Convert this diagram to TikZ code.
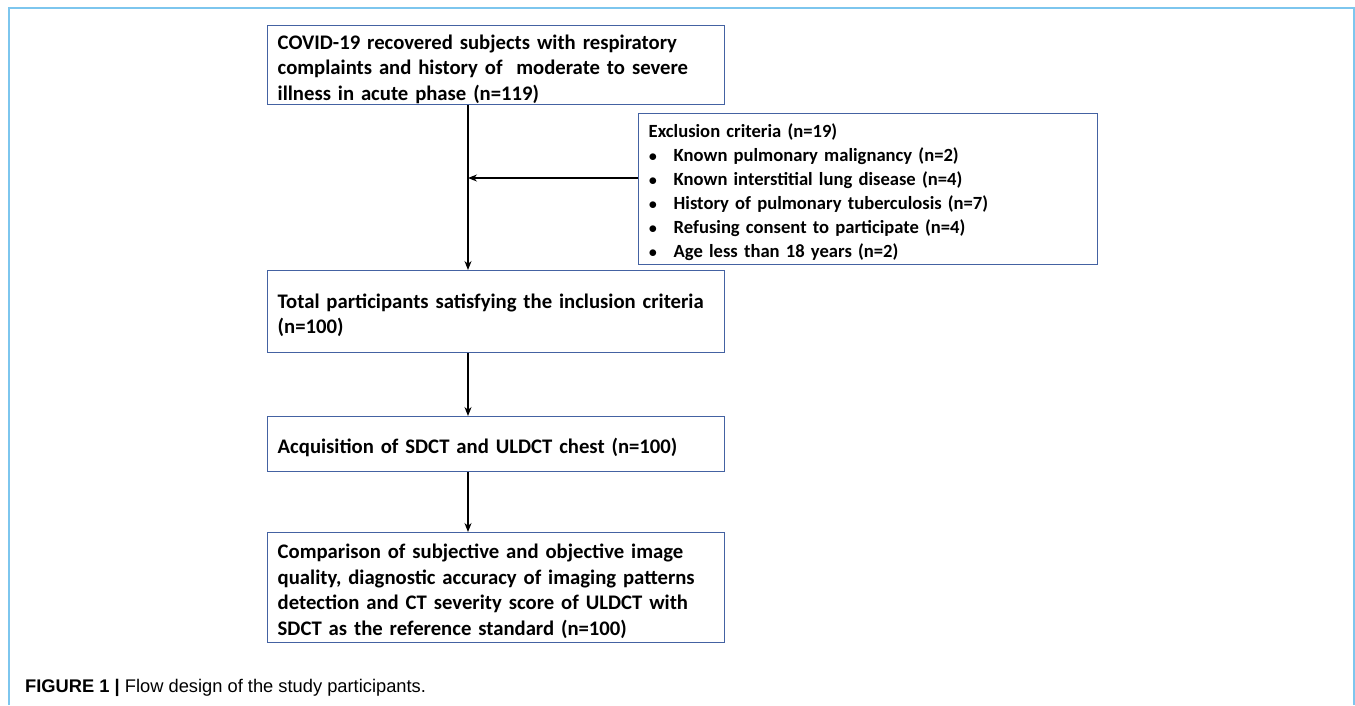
\documentclass[tikz,border=0pt]{standalone}
\usepackage{fontspec}
\setmainfont{Carlito}
\newfontfamily\capfont{Liberation Sans}
\usetikzlibrary{positioning}
\usetikzlibrary{arrows.meta}

\definecolor{boxblue}{RGB}{68,98,162}
\definecolor{framecyan}{RGB}{125,198,238}

\tikzset{
  flowbox/.style={draw=boxblue,line width=1.4pt,inner xsep=10pt,inner ysep=0pt,align=left,
    font=\fontsize{20.7}{25.5}\selectfont\bfseries,
    execute at begin node={\rule{0pt}{22pt}},
    text width=437pt,minimum height=#1,anchor=north west},
  flowbox/.default=55pt,
  exclbox/.style={draw=boxblue,line width=1.4pt,inner xsep=10pt,inner ysep=0pt,align=left,
    font=\fontsize{18.6}{24}\selectfont\bfseries,
    execute at begin node={\rule{0pt}{19.5pt}},
    text width=439pt,minimum height=151pt,anchor=north west},
  flowarrow/.style={-{Stealth[length=9pt,width=7pt]},line width=1.2pt,black},
}
\newcommand{\bitem}[1]{\makebox[25pt][l]{$\bullet$}#1}

\begin{document}
\begin{tikzpicture}[x=1pt,y=-1pt]
\useasboundingbox (0,0) rectangle (1355,705);
\draw[framecyan,line width=1.5pt] (9,705) -- (9,8) -- (1354,8) -- (1354,705);

\node[flowbox=79pt] (covid) at (267,25) {COVID-19 recovered subjects with respiratory\\
complaints and history of \ moderate to severe\\
illness in acute phase (n=119)};
\node[exclbox] (excl) at (638,113) {Exclusion criteria (n=19)\\
\bitem{Known pulmonary malignancy (n=2)}\\
\bitem{Known interstitial lung disease (n=4)}\\
\bitem{History of pulmonary tuberculosis (n=7)}\\
\bitem{Refusing consent to participate (n=4)}\\
\bitem{Age less than 18 years (n=2)}};
\node[flowbox=82pt] (incl) at (267,270) {Total participants satisfying the inclusion criteria\\
(n=100)};
\node[flowbox=55pt] (acq) at (267,416) {Acquisition of SDCT and ULDCT chest (n=100)};
\node[flowbox=110pt] (comp) at (267,532) {Comparison of subjective and objective image\\
quality, diagnostic accuracy of imaging patterns\\
detection and CT severity score of ULDCT with\\
SDCT as the reference standard (n=100)};

% main stem
\coordinate (stem) at (468,0);
\coordinate (join) at (468,178);
\draw[flowarrow] (covid.south -| stem) -- (incl.north -| stem);
\draw[flowarrow] (excl.west |- join) -- (join);
\draw[flowarrow] (incl.south -| stem) -- (acq.north -| stem);
\draw[flowarrow] (acq.south -| stem) -- (comp.north -| stem);

\node[anchor=base west,inner sep=0pt,font=\capfont\fontsize{18.3}{21}\selectfont] (cap) at (25,692)
  {\textbf{FIGURE 1 |} Flow design of the study participants.};
\end{tikzpicture}
\end{document}
